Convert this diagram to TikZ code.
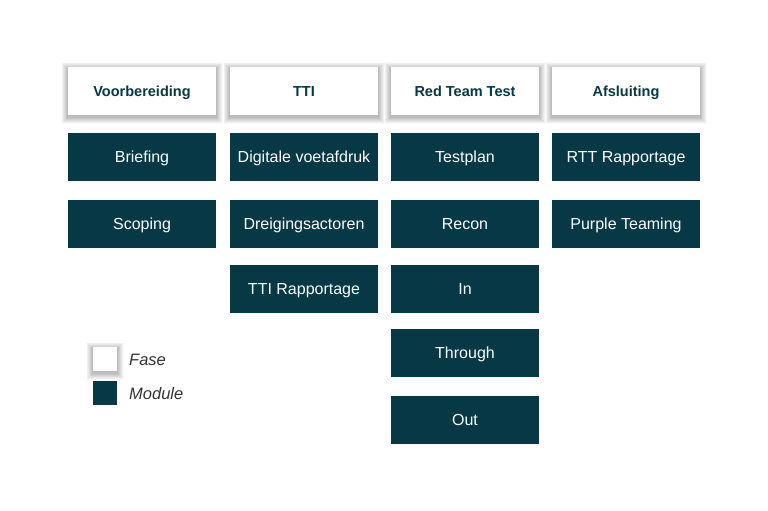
\documentclass[tikz,border=0pt]{standalone}
\usepackage{fontspec}
\setmainfont{Liberation Sans}
\usetikzlibrary{backgrounds}
\definecolor{teal}{HTML}{063845}
\definecolor{legtext}{HTML}{333333}
\tikzset{
  fasebox/.style={fill=white, minimum width=148pt, minimum height=48pt, inner sep=0pt,
    text=teal, font=\fontsize{14.5}{16}\selectfont\bfseries, text height=10.5pt, text depth=0pt},
  modbox/.style={fill=teal, minimum width=148pt, minimum height=48pt, inner sep=0pt,
    text=white, font=\fontsize{16}{18}\selectfont, text height=11pt, text depth=0pt},
  legtxt/.style={anchor=west, inner sep=0pt, text=legtext, font=\fontsize{16.5}{18}\selectfont\itshape, text height=12pt, text depth=0pt},
  shadowlayer/.style={fill=black, opacity=0.018}
}
\begin{document}
\begin{tikzpicture}[x=1pt,y=-1pt]
\useasboundingbox (0,0) rectangle (768,511);
% phases
\node[fasebox] (f1) at (142,91) {Voorbereiding};
\node[fasebox] (f2) at (304,91) {TTI};
\node[fasebox] (f3) at (465,91) {Red Team Test};
\node[fasebox] (f4) at (626,91) {Afsluiting};
% modules col 1
\node[modbox] (m11) at (142,157) {Briefing};
\node[modbox] (m12) at (142,224) {Scoping};
% col 2
\node[modbox] (m21) at (304,157) {Digitale voetafdruk};
\node[modbox] (m22) at (304,224) {Dreigingsactoren};
\node[modbox] (m23) at (304,289) {TTI Rapportage};
% col 3
\node[modbox] (m31) at (465,157) {Testplan};
\node[modbox] (m32) at (465,224) {Recon};
\node[modbox] (m33) at (465,289) {In};
\node[modbox] (m34) at (465,353) {Through};
\node[modbox] (m35) at (465,420) {Out};
% col 4
\node[modbox] (m41) at (626,157) {RTT Rapportage};
\node[modbox] (m42) at (626,224) {Purple Teaming};
% legend
\node[fill=white, minimum size=24pt, inner sep=0pt] (lf) at (105,359) {};
\node[fill=teal, minimum size=24pt, inner sep=0pt] (lm) at (105,393) {};
\node[legtxt] (lft) at (129,359) {Fase};
\node[legtxt] (lmt) at (129,393) {Module};
% background and soft shadows
\begin{scope}[on background layer]
  \fill[white] (0,0) rectangle (768,511);
  \foreach \n in {f1,f2,f3,f4,lf}{
    \foreach \i in {1,...,14}{
      \fill[shadowlayer] ([shift={(-\i*0.45,-\i*0.45+2)}]\n.north west) rectangle ([shift={(\i*0.45,\i*0.45+2)}]\n.south east);
    }
  }
\end{scope}
\end{tikzpicture}
\end{document}
